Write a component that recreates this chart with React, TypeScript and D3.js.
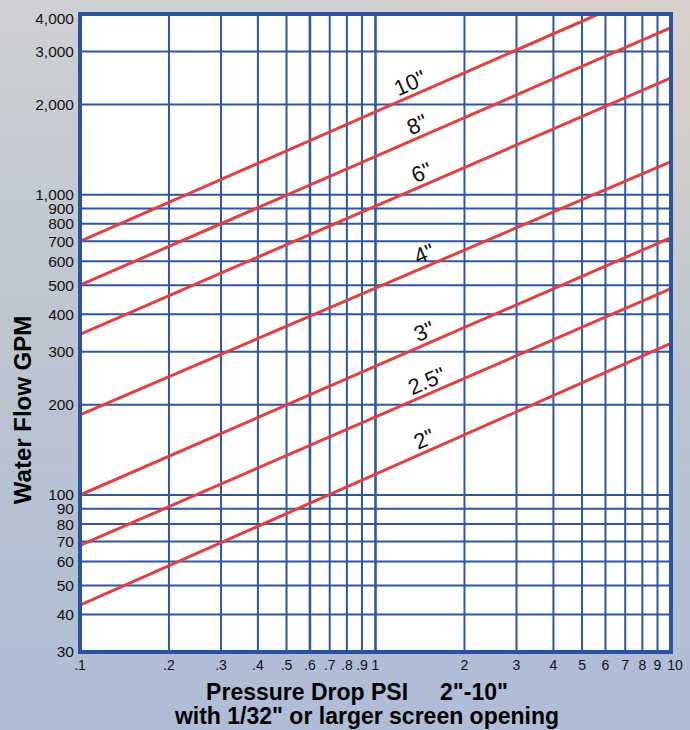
import * as d3 from "d3";

// pressure drop chart, 2"-10" screens, log-log
const pressureTicks = [0.1, 0.2, 0.3, 0.4, 0.5, 0.6, 0.7, 0.8, 0.9, 1, 2, 3, 4, 5, 6, 7, 8, 9, 10];
const pressureLabels = [".1", ".2", ".3", ".4", ".5", ".6", ".7", ".8", ".9", "1", "2", "3", "4", "5", "6", "7", "8", "9", "10"];
const flowTicks = [30, 40, 50, 60, 70, 80, 90, 100, 200, 300, 400, 500, 600, 700, 800, 900, 1000, 2000, 3000, 4000];
const flowLabels = ["30", "40", "50", "60", "70", "80", "90", "100", "200", "300", "400", "500", "600", "700", "800", "900", "1,000", "2,000", "3,000", "4,000"];

const screenSizes = ['10"', '8"', '6"', '4"', '3"', '2.5"', '2"'];
const flowAt01psi = [700, 500, 343, 185, 100, 68, 43];
const flowAt10psi = [5100, 3600, 2450, 1290, 720, 487, 320];
const labelAtPsi = [1.36, 1.44, 1.49, 1.52, 1.52, 1.55, 1.52];

const width = 690;
const height = 730;
const marginLeft = 80;
const marginRight = 19;
const marginTop = 14;
const marginBottom = 78;

const font = "Liberation Sans, Arial, sans-serif";
const gridColor = "#2d56a5";

export default function App() {
  const x = d3.scaleLog().domain([0.1, 10]).range([marginLeft, width - marginRight]);
  const y = d3.scaleLog().domain([30, 4000]).range([height - marginBottom, marginTop]);
  const line = d3.line<[number, number]>().x(d => x(d[0])).y(d => y(d[1]));

  const lines = screenSizes.map((name, i) => {
    const lo = flowAt01psi[i];
    const hi = flowAt10psi[i];
    const slope = Math.log(hi / lo) / Math.log(100);
    const p = labelAtPsi[i];
    const q = lo * Math.pow(p / 0.1, slope);
    const angle = Math.atan2(y(hi) - y(lo), x(10) - x(0.1)) * 180 / Math.PI;
    return { name, pts: [[0.1, lo], [10, hi]] as [number, number][], lx: x(p), ly: y(q), angle };
  });

  const [x0, x1] = x.range();
  const [y1, y0] = y.range();

  return (
    <div style={{ position: "fixed", left: 0, top: 0 }}>
      <svg width={width} height={height} style={{ display: "block" }}>
        <defs>
          <linearGradient id="bg" x1="0" y1="0" x2="0" y2="1">
            <stop offset="0" stopColor="#cfd0d3" />
            <stop offset="0.45" stopColor="#bcc6d0" />
            <stop offset="1" stopColor="#aebcd6" />
          </linearGradient>
          <radialGradient id="warm" cx="0.85" cy="0.05" r="0.45">
            <stop offset="0" stopColor="#dcd0c8" stopOpacity="0.9" />
            <stop offset="1" stopColor="#dcd0c8" stopOpacity="0" />
          </radialGradient>
          <clipPath id="plot">
            <rect x={x0} y={y0} width={x1 - x0} height={y1 - y0} />
          </clipPath>
        </defs>
        <rect width={width} height={height} fill="url(#bg)" />
        <rect width={width} height={height} fill="url(#warm)" />

        <rect x={x0} y={y0} width={x1 - x0} height={y1 - y0} fill="#fff" />

        <g stroke={gridColor}>
          {pressureTicks.map((p, i) => (
            <line key={"v" + i} x1={x(p)} x2={x(p)} y1={y0} y2={y1}
              strokeWidth={p === 0.6 || p === 1 ? 2.6 : 2} />
          ))}
          {flowTicks.map((f, i) => (
            <line key={"h" + i} x1={x0} x2={x1} y1={y(f)} y2={y(f)} strokeWidth={2} />
          ))}
        </g>

        <g clipPath="url(#plot)" fill="none" stroke="#e2403f" strokeWidth={3}>
          {lines.map(l => <path key={l.name} d={line(l.pts) ?? ""} />)}
        </g>

        <g fontFamily={font} fontSize={22} fill="#111">
          {lines.map(l => (
            <text key={l.name} transform={`translate(${l.lx},${l.ly}) rotate(${l.angle})`}
              y={-5} textAnchor="middle">{l.name}</text>
          ))}
        </g>

        <rect x={x0} y={y0} width={x1 - x0} height={y1 - y0} fill="none" stroke="#2a52a3" strokeWidth={4} />

        <g fontFamily={font} fontSize={15.5} fill="#111" textAnchor="end">
          {flowTicks.map((f, i) => (
            <text key={i} x={x0 - 6} y={Math.max(y(f), y0 + 5)} dy="0.35em">{flowLabels[i]}</text>
          ))}
        </g>

        <g fontFamily={font} fontSize={14} fill="#111" textAnchor="middle">
          {pressureTicks.map((p, i) => (
            <text key={i} x={x(p) + (p === 10 ? 4 : 0)} y={y1 + 18}>{pressureLabels[i]}</text>
          ))}
        </g>

        <text transform={`translate(31,410) rotate(-90)`} textAnchor="middle"
          fontFamily={font} fontSize={24} fontWeight="bold" fill="#000">Water Flow GPM</text>

        <g fontFamily={font} fontSize={23} fontWeight="bold" fill="#000" textAnchor="middle">
          <text x={357} y={700} xmlSpace="preserve">{'Pressure Drop PSI     2"-10"'}</text>
          <text x={367} y={724}>{'with 1/32" or larger screen opening'}</text>
        </g>
      </svg>
    </div>
  );
}
